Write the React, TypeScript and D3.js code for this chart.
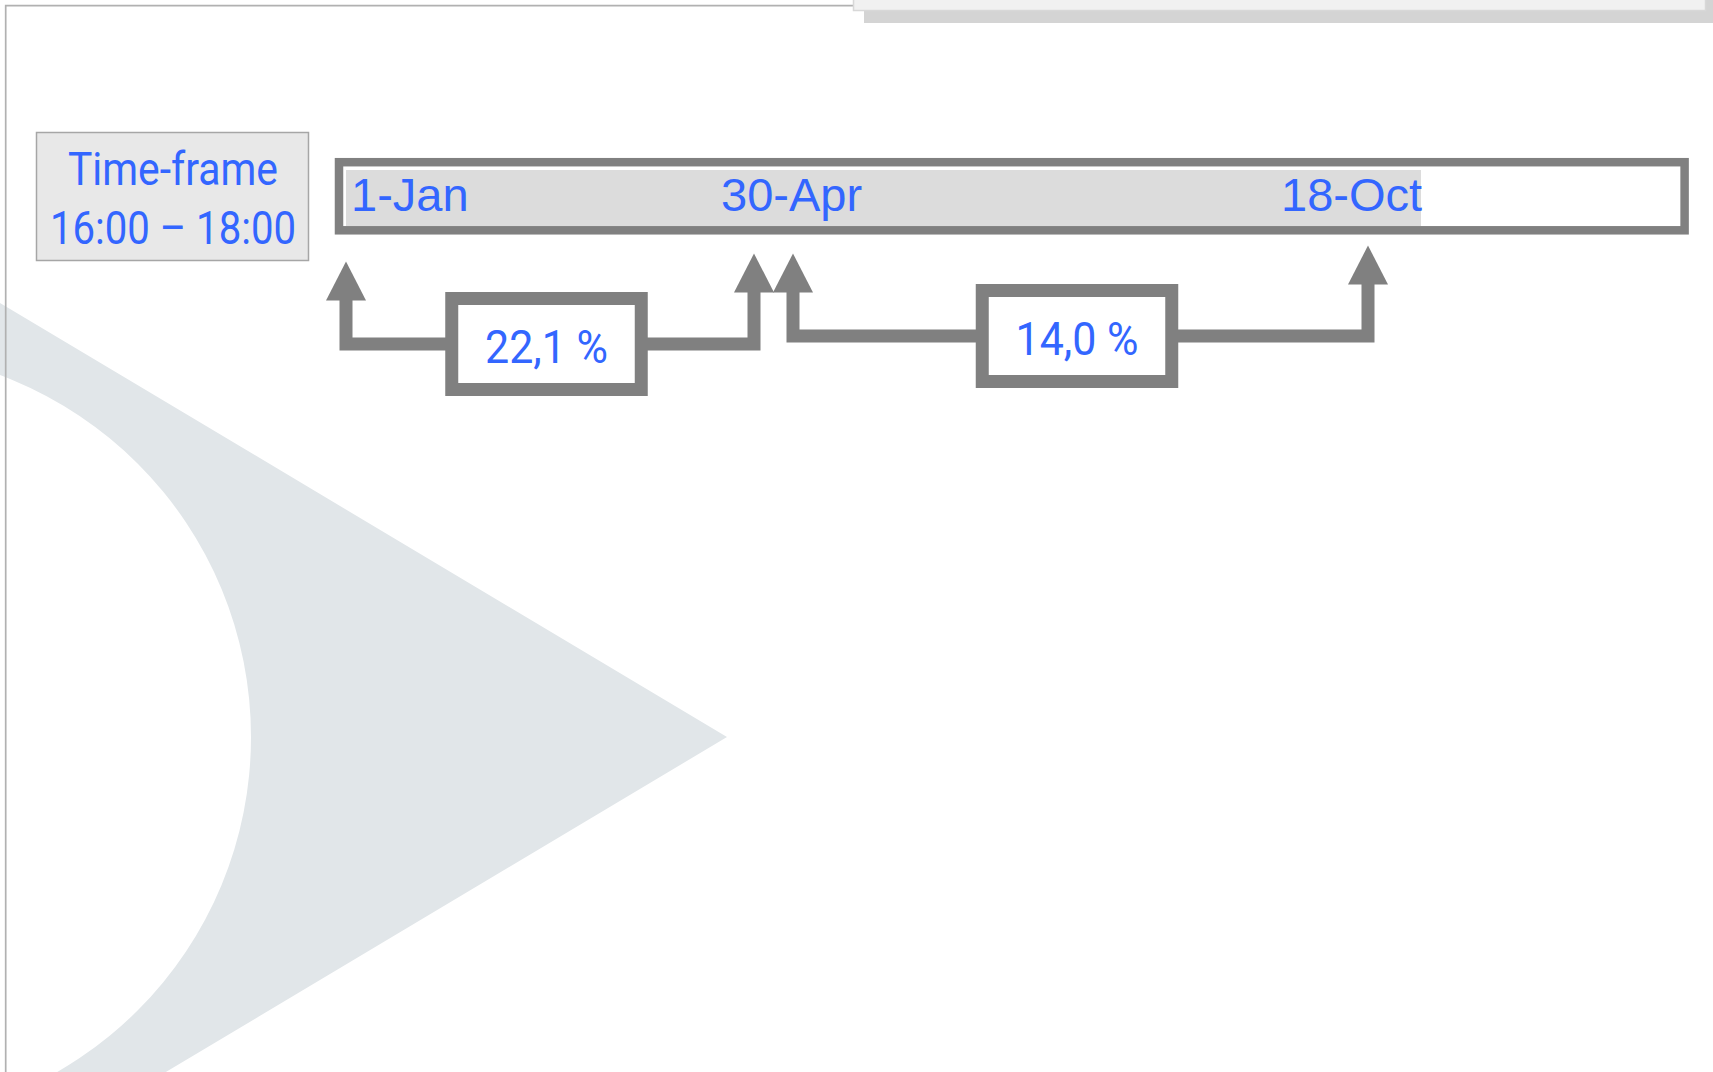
import React, { useEffect, useRef } from 'react';
import * as d3 from 'd3';

// Timeline data
const dateStrings = ['2021-01-01', '2021-04-30', '2021-10-18'];
const dateLabels = ['1-Jan', '30-Apr', '18-Oct'];
const changeValues = ['22,1 %', '14,0 %'];
const timeFrameLines = ['Time-frame', '16:00 – 18:00'];

const WIDTH = 1713;
const HEIGHT = 1072;
const BLUE = '#3366ff';
const GREY = '#808080';
const CONDENSED = 'Roboto, "Noto Sans", sans-serif';
const ARIAL = '"Liberation Sans", Arial, sans-serif';

// layout of the annotation rows (centre line of each connector)
const segmentY = [344, 336];
const labelDx = [5, -52.5, -87];
const pairGap = 19.5;

const parseDate = d3.timeParse('%Y-%m-%d');

export default function App() {
  const ref = useRef<SVGSVGElement>(null);

  useEffect(() => {
    const svg = d3.select(ref.current);
    svg.selectAll('*').remove();

    const dates = dateStrings.map(d => parseDate(d) as Date);

    // piecewise time scale along the timeline bar
    const x = d3
      .scaleTime()
      .domain(dates)
      .range([346, 773.5, 1368]);

    // Watermark: triangle with a round bite out of it
    const mark = d3.path();
    const apex = { x: 727, y: 737 };
    const slope = 0.597;
    mark.moveTo(apex.x, apex.y);
    mark.lineTo(-600, apex.y - slope * (apex.x + 600));
    mark.lineTo(-600, apex.y + slope * (apex.x + 600));
    mark.closePath();
    const cx = -135.5;
    const r = 386.5;
    mark.moveTo(cx + r, apex.y);
    mark.arc(cx, apex.y, r, 0, Math.PI * 2);
    mark.closePath();

    svg
      .append('path')
      .attr('d', mark.toString())
      .attr('fill', '#e1e6e9')
      .attr('fill-rule', 'evenodd');

    // Page frame
    svg
      .append('path')
      .attr('d', 'M5.7,1072V5.7H853')
      .attr('fill', 'none')
      .attr('stroke', '#b1b1b1')
      .attr('stroke-width', 1.7);

    svg
      .append('rect')
      .attr('x', 864)
      .attr('y', -5)
      .attr('width', 860)
      .attr('height', 28)
      .attr('fill', '#d4d4d4');

    svg
      .append('rect')
      .attr('x', 853.5)
      .attr('y', -5)
      .attr('width', 852)
      .attr('height', 15.5)
      .attr('fill', '#f1f1f1')
      .attr('stroke', '#d8d8d8')
      .attr('stroke-width', 1.5);

    // Time-frame box
    svg
      .append('rect')
      .attr('x', 36.5)
      .attr('y', 132.5)
      .attr('width', 272)
      .attr('height', 128)
      .attr('fill', '#e8e8e8')
      .attr('stroke', '#a6a6a6')
      .attr('stroke-width', 1.5);

    const tfLengths = [210, 246];
    svg
      .selectAll('text.tf')
      .data(timeFrameLines)
      .enter()
      .append('text')
      .attr('class', 'tf')
      .attr('x', 173)
      .attr('y', (d, i) => 185 + i * 59)
      .attr('text-anchor', 'middle')
      .attr('textLength', (d, i) => tfLengths[i])
      .attr('lengthAdjust', 'spacingAndGlyphs')
      .style('font-family', CONDENSED)
      .style('font-size', '47px')
      .style('fill', BLUE)
      .text(d => d);

    // Timeline bar
    svg
      .append('rect')
      .attr('x', 339)
      .attr('y', 162.2)
      .attr('width', 1345.6)
      .attr('height', 68.1)
      .attr('fill', '#fff')
      .attr('stroke', GREY)
      .attr('stroke-width', 8.5);

    const last = dates[dates.length - 1];
    svg
      .append('rect')
      .attr('x', x(dates[0]))
      .attr('y', 170)
      .attr('width', x(last) + 53 - x(dates[0]))
      .attr('height', 56)
      .attr('fill', '#dcdcdc');

    svg
      .selectAll('text.date')
      .data(dates)
      .enter()
      .append('text')
      .attr('class', 'date')
      .attr('x', (d, i) => x(d) + labelDx[i])
      .attr('y', 211)
      .style('font-family', ARIAL)
      .style('font-size', '47px')
      .style('fill', BLUE)
      .text((d, i) => dateLabels[i]);

    // Change annotations between dates
    const segments = changeValues.map((v, i) => ({
      from: dates[i],
      to: dates[i + 1],
      value: v,
      y: segmentY[i],
      first: i === 0,
      lastSeg: i === changeValues.length - 1,
    }));

    const headW = 40;
    const headH = 39;

    segments.forEach(s => {
      const x0 = x(s.from) + (s.first ? 0 : pairGap);
      const x1 = x(s.to) - (s.lastSeg ? 0 : pairGap);
      const tip0 = s.y - 82.5;
      const tip1 = s.y - 90.5;
      const g = svg.append('g');

      g.append('path')
        .attr('d', d3.line()([
          [x0, tip0 + headH - 1],
          [x0, s.y],
          [x1, s.y],
          [x1, tip1 + headH - 1],
        ]))
        .attr('fill', 'none')
        .attr('stroke', GREY)
        .attr('stroke-width', 13)
        .attr('stroke-linejoin', 'miter');

      [[x0, tip0], [x1, tip1]].forEach(([ax, ay]) => {
        g.append('path')
          .attr('d', `M${ax},${ay}L${ax + headW / 2},${ay + headH}L${ax - headW / 2},${ay + headH}Z`)
          .attr('fill', GREY);
      });

      const bx = (x0 + x1) / 2 - 3.5;
      g.append('rect')
        .attr('x', bx - 189.5 / 2)
        .attr('y', s.y - 91 / 2)
        .attr('width', 189.5)
        .attr('height', 91)
        .attr('fill', '#fff')
        .attr('stroke', GREY)
        .attr('stroke-width', 13);

      g.append('text')
        .attr('x', bx)
        .attr('y', s.y + 18.5)
        .attr('text-anchor', 'middle')
        .attr('textLength', 123)
        .attr('lengthAdjust', 'spacingAndGlyphs')
        .style('font-family', CONDENSED)
        .style('font-size', '47px')
        .style('fill', BLUE)
        .text(s.value);
    });
  }, []);

  return (
    <svg
      ref={ref}
      width={WIDTH}
      height={HEIGHT}
      style={{ position: 'fixed', left: 0, top: 0, background: '#fff', display: 'block' }}
    />
  );
}
